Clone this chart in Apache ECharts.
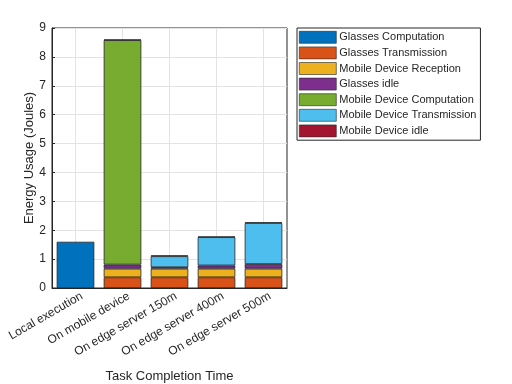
<!DOCTYPE html>
<html>
<head>
<meta charset="utf-8">
<script src="https://cdn.jsdelivr.net/npm/echarts@6/dist/echarts.min.js"></script>
<style>
  html, body { margin: 0; padding: 0; background: #fff; }
  #chart { width: 512px; height: 384px; }
</style>
</head>
<body>
<div id="chart"></div>
<script>
// categories and series values (Joules)
var categories = ['Local execution', 'On mobile device', 'On edge server 150m', 'On edge server 400m', 'On edge server 500m'];
var glassesComputation = [1.6, null, null, null, null];
var glassesTransmission = [null, 0.37, 0.37, 0.37, 0.37];
var mobileReception = [null, 0.30, 0.30, 0.30, 0.30];
var glassesIdle = [null, 0.14, 0.05, 0.11, 0.16];
var mobileComputation = [null, 7.77, null, null, null];
var mobileTransmission = [null, null, 0.38, 0.98, 1.42];
var mobileIdle = [null, 0.02, 0.03, 0.02, 0.02];
var yTicks = [0, 1, 2, 3, 4, 5, 6, 7, 8, 9];

var names = ['Glasses Computation', 'Glasses Transmission', 'Mobile Device Reception', 'Glasses idle',
  'Mobile Device Computation', 'Mobile Device Transmission', 'Mobile Device idle'];
var colors = ['#0072BD', '#D95319', '#EDB120', '#7E2F8E', '#77AC30', '#4DBEEE', '#A2142F'];
var values = [glassesComputation, glassesTransmission, mobileReception, glassesIdle,
  mobileComputation, mobileTransmission, mobileIdle];

var chart = echarts.init(document.getElementById('chart'));
var font = 'Liberation Sans, Arial, sans-serif';

var series = names.map(function (n, i) {
  return {
    name: n,
    type: 'bar',
    stack: 'total',
    barWidth: '80%',
    data: values[i],
    itemStyle: { color: colors[i], borderColor: '#262626', borderWidth: 0.8 }
  };
});

var option = {
  animation: false,
  textStyle: { fontFamily: font },
  color: colors,
  grid: {
    left: 52, right: 225, top: 28, bottom: 96,
    outerBoundsMode: 'none',
    containLabel: false,
    show: true, borderColor: '#262626', borderWidth: 1, backgroundColor: '#fff'
  },
  legend: {
    orient: 'vertical',
    left: 297, top: 28,
    itemWidth: 37, itemHeight: 12, itemGap: 3,
    padding: [3, 4, 3, 2],
    borderColor: '#262626', borderWidth: 1,
    icon: 'rect',
    itemStyle: { borderWidth: 0.6 },
    textStyle: { fontSize: 11, lineHeight: 12, color: '#262626', fontFamily: font, padding: [0, 0, 0, -2] },
    data: names
  },
  xAxis: {
    type: 'category',
    data: categories,
    name: 'Task Completion Time',
    nameLocation: 'middle',
    nameGap: 82,
    nameTextStyle: { fontSize: 13, color: '#262626' },
    axisLine: { lineStyle: { color: '#262626' } },
    axisTick: { alignWithLabel: true, inside: true, length: 3, lineStyle: { color: '#262626' } },
    axisLabel: {
      rotate: 30, fontSize: 12, color: '#262626', margin: 4,
      verticalAlign: 'top', padding: [0, -4, 0, 0]
    },
    splitLine: { show: true, alignWithLabel: true, lineStyle: { color: '#e3e3e3', width: 1 } }
  },
  yAxis: {
    type: 'value',
    min: yTicks[0], max: yTicks[yTicks.length - 1], interval: 1,
    name: 'Energy Usage (Joules)',
    nameLocation: 'middle',
    nameGap: 16,
    nameTextStyle: { fontSize: 13, color: '#262626' },
    axisLine: { show: true, lineStyle: { color: '#262626' } },
    axisTick: { show: true, inside: true, length: 3, lineStyle: { color: '#262626' } },
    axisLabel: { fontSize: 12, color: '#262626', margin: 6 },
    splitLine: { show: true, lineStyle: { color: '#e3e3e3', width: 1 } }
  },
  series: series
};

chart.setOption(option);
</script>
</body>
</html>
